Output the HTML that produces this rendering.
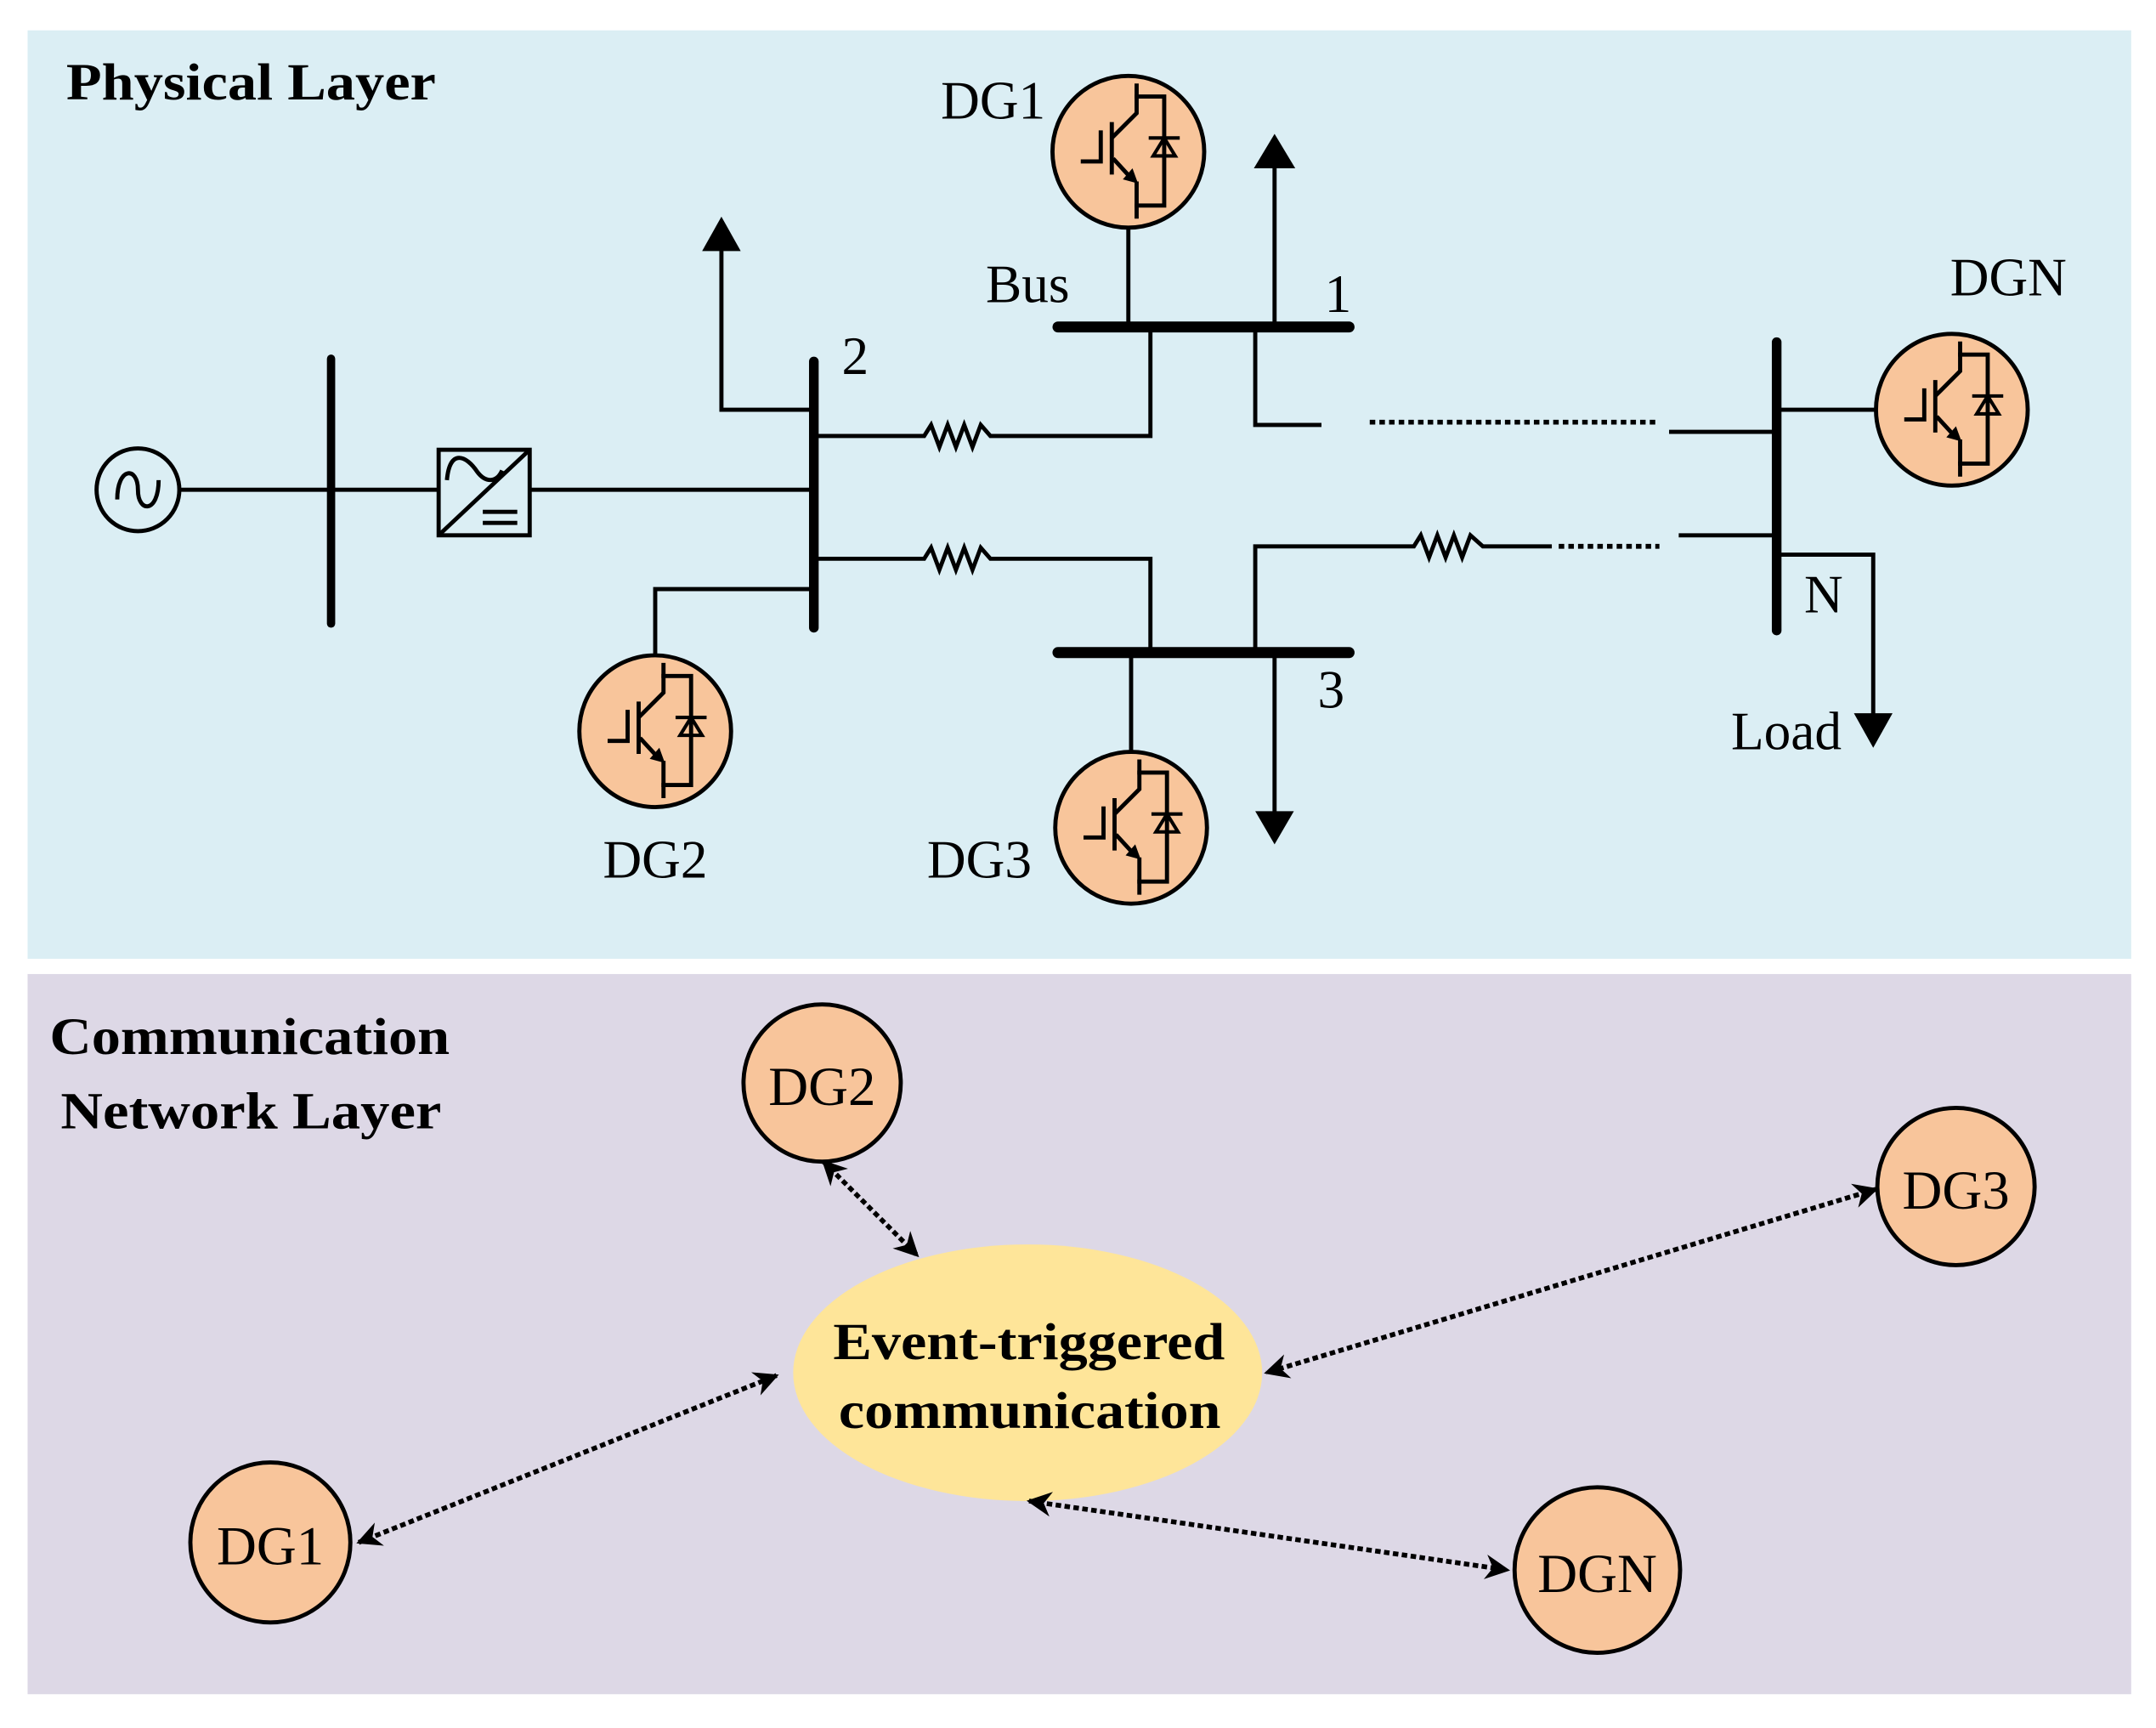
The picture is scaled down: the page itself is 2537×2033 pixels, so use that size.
<!DOCTYPE html>
<html><head><meta charset="utf-8"><style>
html,body{margin:0;padding:0;background:#fff;}
svg{display:block;}
text{font-family:"Liberation Serif",serif;fill:#000;}
</style></head><body>
<svg width="2537" height="2033" viewBox="0 0 1563 1252.5" preserveAspectRatio="none" xmlns="http://www.w3.org/2000/svg">
<defs>
<g id="igbt">
<circle cx="0" cy="0" r="55" fill="#f8c59b" stroke="#000" stroke-width="3"/>
<g stroke="#000" stroke-width="3" fill="none" stroke-linecap="square">
<polyline points="-33,7 -20,7 -20,-14"/>
<line x1="-12" y1="-20" x2="-12" y2="15"/>
<polyline points="-11,-11 6,-28 6,-48"/>
<polyline points="6,-40 26,-40 26,39 6,39"/>
<line x1="6" y1="23" x2="6" y2="47"/>
<line x1="-10" y1="6" x2="1" y2="18"/>
<line x1="16" y1="-10" x2="36" y2="-10" stroke-width="2.5"/>
<polygon points="26,-10 18,3 34,3" stroke-width="2.5"/>
</g>
<polygon points="7,23 -4,20 3,12" fill="#000"/>
</g>
<marker id="ah" viewBox="0 0 10 10" refX="9" refY="5" markerWidth="22" markerHeight="18" orient="auto-start-reverse" markerUnits="userSpaceOnUse">
<path d="M0,0 L10,5 L0,10 L3,5 z" fill="#000"/>
</marker>
</defs>
<rect x="20" y="22" width="1525" height="673" fill="#dbeef4"/>
<rect x="20" y="706" width="1525" height="522" fill="#ddd8e6"/>

<text x="48" y="72" font-size="38" font-weight="bold" textLength="268" lengthAdjust="spacingAndGlyphs">Physical Layer</text>

<g stroke="#000" stroke-width="3" fill="none">
<circle cx="100" cy="355" r="30"/>
<path d="M85,362 C85,338 100,338 100,355 C100,372 115,372 115,348"/>
<line x1="130" y1="355" x2="318" y2="355"/>
<rect x="318" y="326" width="66" height="62" fill="#dbeef4"/>
<line x1="318" y1="388" x2="384" y2="326"/>
<path d="M324,348 C326,325 338,330 346,342 C352,350 360,350 364,341"/>
<line x1="350" y1="371" x2="375" y2="371"/>
<line x1="350" y1="379" x2="375" y2="379"/>
<line x1="384" y1="355" x2="590" y2="355"/>
<polyline points="590,297 523,297 523,178"/>
<polyline points="590,316 670,316 675,308 681,324 687,308 693,324 699,308 705,324 711,308 718,316 834,316 834,237"/>
<polyline points="590,405 670,405 675,397 681,413 687,397 693,413 699,397 705,413 711,397 718,405 834,405 834,473"/>
<polyline points="590,427 475,427 475,475"/>
<line x1="818" y1="165" x2="818" y2="237"/>
<line x1="924" y1="237" x2="924" y2="118"/>
<polyline points="910,237 910,308 958,308"/>
<line x1="820" y1="473" x2="820" y2="545"/>
<line x1="924" y1="473" x2="924" y2="592"/>
<polyline points="910,473 910,396 1025,396 1030,388 1036,404 1042,388 1048,404 1054,388 1060,404 1066,388 1075,396 1125,396"/>
<line x1="1210" y1="313" x2="1288" y2="313"/>
<line x1="1217" y1="388" x2="1288" y2="388"/>
<line x1="1288" y1="297" x2="1360" y2="297"/>
<polyline points="1288,402 1358,402 1358,520"/>
</g>
<g stroke="#000" stroke-width="3.5" stroke-dasharray="4,3">
<line x1="993" y1="306" x2="1203" y2="306"/>
<line x1="1130" y1="396" x2="1203" y2="396"/>
</g>
<g stroke="#000" stroke-linecap="round">
<line x1="240" y1="260" x2="240" y2="452" stroke-width="6"/>
<line x1="590" y1="262" x2="590" y2="455" stroke-width="7"/>
<line x1="767" y1="237" x2="978" y2="237" stroke-width="8"/>
<line x1="767" y1="473" x2="978" y2="473" stroke-width="8"/>
<line x1="1288" y1="248" x2="1288" y2="457" stroke-width="7"/>
</g>
<g fill="#000">
<polygon points="523,157 509,182 537,182"/>
<polygon points="924,97 909,122 939,122"/>
<polygon points="924,612 910,588 938,588"/>
<polygon points="1358,542 1344,517 1372,517"/>
</g>
<use href="#igbt" x="818" y="110"/>
<use href="#igbt" x="1415" y="297"/>
<use href="#igbt" x="475" y="530"/>
<use href="#igbt" x="820" y="600"/>
<g font-size="39">
<text x="720" y="86" text-anchor="middle">DG1</text>
<text x="1456" y="214" text-anchor="middle">DGN</text>
<text x="475" y="636" text-anchor="middle">DG2</text>
<text x="710" y="636" text-anchor="middle">DG3</text>
<text x="745" y="219" text-anchor="middle">Bus</text>
<text x="970" y="226" text-anchor="middle">1</text>
<text x="620" y="271" text-anchor="middle">2</text>
<text x="965" y="513" text-anchor="middle">3</text>
<text x="1322" y="444" text-anchor="middle">N</text>
<text x="1295" y="543" text-anchor="middle">Load</text>
</g>

<text x="36" y="764" font-size="38" font-weight="bold" textLength="290" lengthAdjust="spacingAndGlyphs">Communication</text>
<text x="44" y="818" font-size="38" font-weight="bold" textLength="276" lengthAdjust="spacingAndGlyphs">Network Layer</text>
<ellipse cx="745" cy="995" rx="170" ry="93" fill="#fee599"/>
<text x="604" y="985" font-size="38" font-weight="bold" textLength="284" lengthAdjust="spacingAndGlyphs">Event-triggered</text>
<text x="608" y="1035" font-size="38" font-weight="bold" textLength="277" lengthAdjust="spacingAndGlyphs">communication</text>
<g stroke="#000" stroke-width="3.5" stroke-dasharray="4,2.5" marker-start="url(#ah)" marker-end="url(#ah)">
<line x1="597" y1="842" x2="665" y2="910"/>
<line x1="1360" y1="862" x2="918" y2="995"/>
<line x1="260" y1="1118" x2="563" y2="997"/>
<line x1="746" y1="1088" x2="1093" y2="1138"/>
</g>
<g fill="#f8c59b" stroke="#000" stroke-width="3">
<circle cx="596" cy="785" r="57"/>
<circle cx="1418" cy="860" r="57"/>
<circle cx="196" cy="1118" r="58"/>
<circle cx="1158" cy="1138" r="60"/>
</g>
<g font-size="40" text-anchor="middle">
<text x="596" y="801">DG2</text>
<text x="1418" y="876">DG3</text>
<text x="196" y="1134">DG1</text>
<text x="1158" y="1154">DGN</text>
</g>
</svg>
</body></html>
